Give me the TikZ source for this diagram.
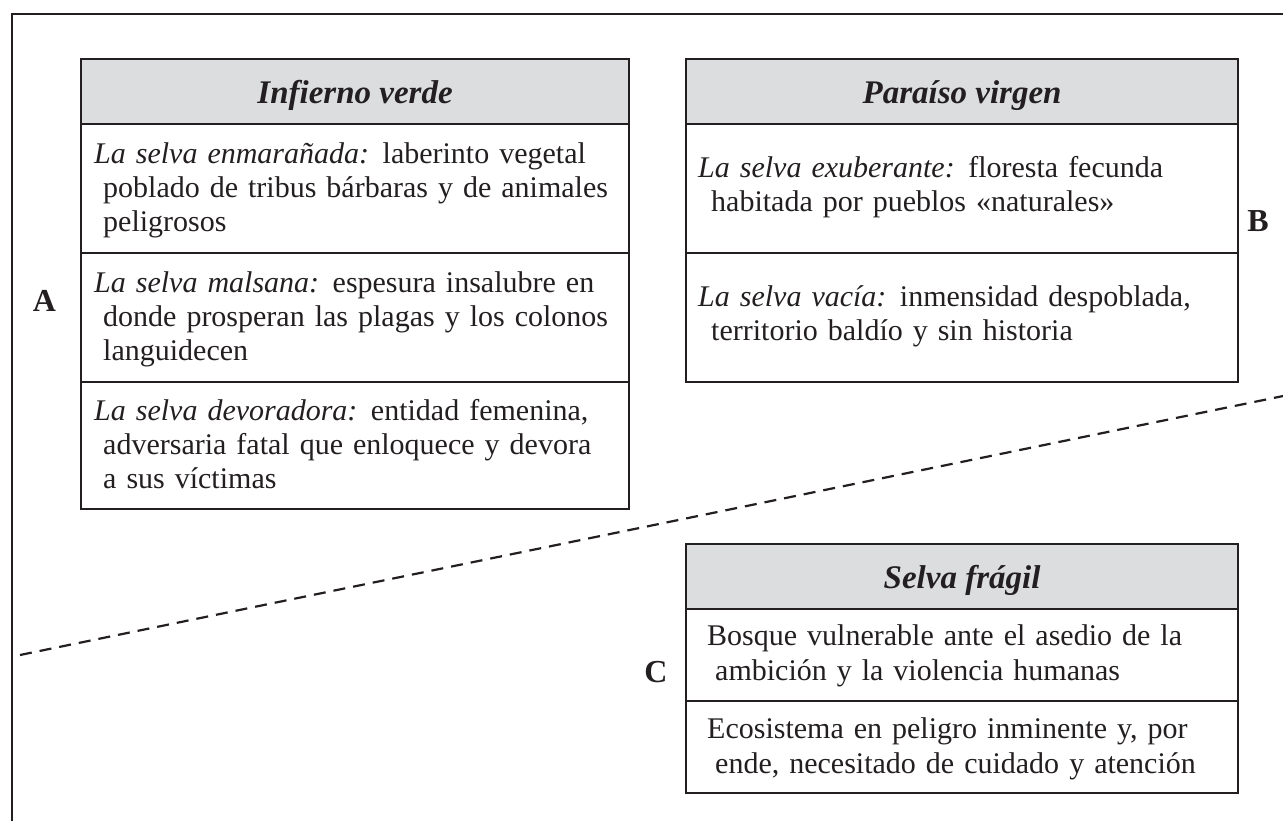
\documentclass[tikz,border=0pt]{standalone}
\usepackage{fontspec}
\setmainfont{Liberation Serif}
\definecolor{ink}{HTML}{231F20}
\definecolor{headfill}{HTML}{DCDDDF}
\tikzset{
  cell/.style={draw=ink, line width=2.2pt, rectangle, inner sep=0pt, anchor=north west},
  headcell/.style={cell, fill=headfill, text=ink, text height=24pt, text depth=0pt,
    font=\fontsize{33}{38}\selectfont\bfseries\itshape},
  txt/.style={anchor=north west, inner sep=0pt, text width=560pt, align=left,
    font=\fontsize{30}{34}\selectfont, text=ink},
  txtc/.style={txt, font=\fontsize{30}{35}\selectfont},
  lbl/.style={anchor=base, inner sep=0pt, font=\fontsize{32}{36}\selectfont\bfseries, text=ink},
  frameline/.style={draw=ink, line width=2.6pt, line join=miter},
  dashline/.style={draw=ink, line width=2.2pt, dash pattern=on 12pt off 8pt},
}
\newcommand{\gap}{\hspace{0.45em}}
\newcommand{\hang}[1]{\newline\hspace*{#1}}
\begin{document}
\begin{tikzpicture}[x=1pt,y=-1pt]
\useasboundingbox (0,0) rectangle (1283,821);
% outer frame (open on right and bottom)
\coordinate (f1) at (12,821);
\coordinate (f2) at (12,14);
\coordinate (f3) at (1290,14);
\draw[frameline] (f1) -- (f2) -- (f3);

% ---- Box A ----
\node[headcell, minimum width=548pt, minimum height=65pt] (ah) at (80,58) {Infierno verde};
\node[cell, minimum width=548pt, minimum height=129pt] (a1) at (80,123) {};
\node[cell, minimum width=548pt, minimum height=129pt] (a2) at (80,252) {};
\node[cell, minimum width=548pt, minimum height=127pt] (a3) at (80,381) {};
\node[txt] (a1t) at (94,139.2) {\strut\textit{La selva enmarañada:}\gap laberinto vegetal\hang{9pt}poblado de tribus bárbaras y de animales\hang{9pt}peligrosos};
\node[txt] (a2t) at (94,268.2) {\strut\textit{La selva malsana:}\gap espesura insalubre en\hang{9pt}donde prosperan las plagas y los colonos\hang{9pt}languidecen};
\node[txt] (a3t) at (94,396.2) {\strut\textit{La selva devoradora:}\gap entidad femenina,\hang{9pt}adversaria fatal que enloquece y devora\hang{9pt}a sus víctimas};
\node[lbl] (la) at (44.5,312) {A};

% ---- Box B ----
\node[headcell, minimum width=552pt, minimum height=65pt] (bh) at (685,58) {Paraíso virgen};
\node[cell, minimum width=552pt, minimum height=129pt] (b1) at (685,123) {};
\node[cell, minimum width=552pt, minimum height=129pt] (b2) at (685,252) {};
\node[txt] (b1t) at (698,153.2) {\strut\textit{La selva exuberante:}\gap floresta fecunda\hang{13pt}habitada por pueblos «naturales»};
\node[txt] (b2t) at (698,282.2) {\strut\textit{La selva vacía:}\gap inmensidad despoblada,\hang{13pt}territorio baldío y sin historia};
\node[lbl] (lb) at (1258,232) {B};

% ---- dashed divider ----
\coordinate (d1) at (20,655);
\coordinate (d2) at (1290,394.6);
\draw[dashline] (d1) -- (d2);

% ---- Box C ----
\node[headcell, minimum width=552pt, minimum height=65pt] (ch) at (685,543) {Selva frágil};
\node[cell, minimum width=552pt, minimum height=92pt] (c1) at (685,608) {};
\node[cell, minimum width=552pt, minimum height=92pt] (c2) at (685,700) {};
\node[txtc] (c1t) at (707,620.5) {\strut Bosque vulnerable ante el asedio de la\hang{8pt}ambición y la violencia humanas};
\node[txtc] (c2t) at (707,713.5) {\strut Ecosistema en peligro inminente y, por\hang{8pt}ende, necesitado de cuidado y atención};
\node[lbl] (lc) at (656,682) {C};
\end{tikzpicture}
\end{document}
